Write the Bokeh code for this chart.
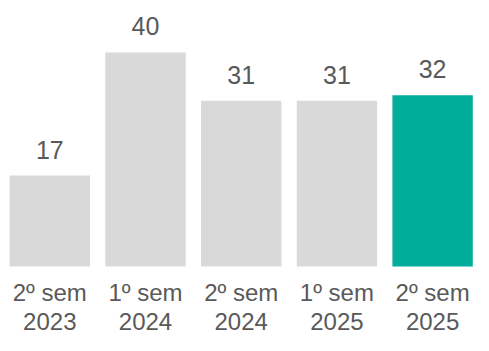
from bokeh.plotting import figure
from bokeh.models import ColumnDataSource, Range1d
from bokeh.core.properties import value
from bokeh.embed import file_html
from bokeh.resources import INLINE

line1 = ["2º sem", "1º sem", "2º sem", "1º sem", "2º sem"]
line2 = ["2023", "2024", "2024", "2025", "2025"]
values = [17, 40, 31, 31, 32]
colors = ["#d9d9d9", "#d9d9d9", "#d9d9d9", "#d9d9d9", "#00ad9b"]

xs = list(range(len(values)))
src = ColumnDataSource(dict(x=xs, top=values, color=colors,
                            label=[str(v) for v in values],
                            l1=line1, l2=line2, zero=[0] * len(values)))

p = figure(width=473, height=335, output_backend="svg", toolbar_location=None,
           x_range=Range1d(-0.5152, 4.4274), y_range=Range1d(-12.90, 49.72),
           min_border=0)
p.outline_line_color = None
p.axis.visible = False
p.grid.visible = False
p.background_fill_color = "white"
p.border_fill_color = "white"

p.vbar(x="x", top="top", bottom=0, width=0.84, fill_color="color",
       line_color=None, source=src)

font = value("Liberation Sans")
p.text(x="x", y="top", text="label", source=src, text_font=font,
       text_font_size="25px", text_color="#595959", text_align="center",
       text_baseline="middle", y_offset=-26)
p.text(x="x", y="zero", text="l1", source=src, text_font=font,
       text_font_size="24px", text_color="#595959", text_align="center",
       text_baseline="middle", y_offset=26)
p.text(x="x", y="zero", text="l2", source=src, text_font=font,
       text_font_size="24px", text_color="#595959", text_align="center",
       text_baseline="middle", y_offset=55)

open("out.html", "w").write(file_html(p, INLINE))
